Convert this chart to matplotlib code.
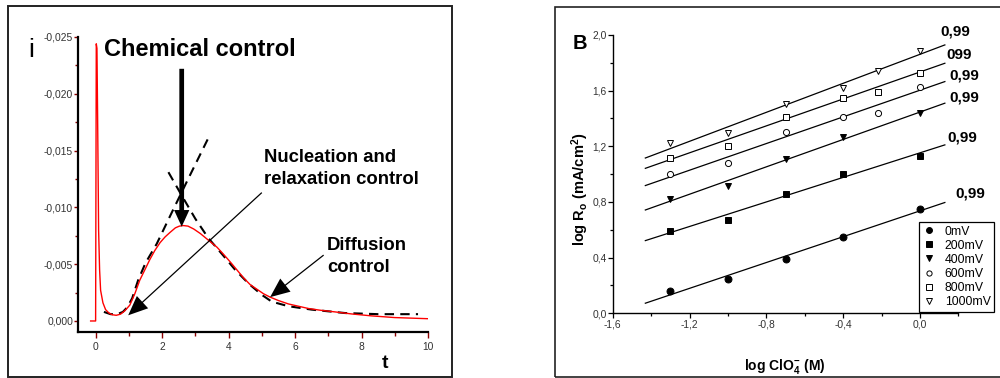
import matplotlib
matplotlib.use("Agg")
import matplotlib.pyplot as plt
from matplotlib.patches import Rectangle
from matplotlib.ticker import MultipleLocator, FuncFormatter, FixedLocator
import numpy as np

plt.rcParams['font.family'] = ['Liberation Sans', 'DejaVu Sans']
plt.rcParams['mathtext.fontset'] = 'custom'
plt.rcParams['mathtext.rm'] = 'Liberation Sans'
plt.rcParams['mathtext.bf'] = 'Liberation Sans:bold'
plt.rcParams['mathtext.it'] = 'Liberation Sans:italic'
plt.rcParams['mathtext.default'] = 'bf'

# ---------------- Panel A data (current transient) ----------------
t_measured = [-0.15, 0.0, 0.02, 0.04, 0.06, 0.09, 0.12, 0.15, 0.22, 0.30, 0.40,
              0.50, 0.62, 0.75, 0.88, 1.03, 1.18, 1.33, 1.48, 1.63, 1.78, 1.94,
              2.09, 2.24, 2.40, 2.52, 2.64, 2.78, 2.95, 3.15, 3.44, 3.65, 3.84,
              4.05, 4.25, 4.45, 4.65, 4.85, 5.05, 5.25, 5.50, 5.80, 6.10, 6.40,
              6.75, 7.20, 7.70, 8.30, 9.00, 10.0]
i_measured = [0.0, 0.0, -0.0244, -0.0240, -0.0180, -0.0080, -0.0045, -0.0027,
              -0.0016, -0.0010, -0.0007, -0.00055, -0.0005, -0.0006, -0.0009,
              -0.0014, -0.0024, -0.0036, -0.0045, -0.0054, -0.0062, -0.0069,
              -0.0074, -0.0078, -0.0082, -0.00835, -0.0084, -0.00835, -0.0081,
              -0.0077, -0.0070, -0.0065, -0.0059, -0.0052, -0.0045, -0.0038,
              -0.0032, -0.0028, -0.0024, -0.0021, -0.0018, -0.0015, -0.0013,
              -0.0011, -0.00095, -0.0008, -0.00062, -0.00045, -0.0003, -0.0002]

t_nucl = [0.25, 0.45, 0.65, 0.82, 0.95, 1.10, 1.28, 1.50, 1.84, 2.30, 2.80, 3.39]
i_nucl = [-0.0008, -0.0006, -0.0006, -0.0008, -0.0012, -0.0020, -0.0036, -0.0051,
          -0.0068, -0.0096, -0.0126, -0.0161]

t_diff = [2.19, 2.60, 3.00, 3.39, 3.80, 4.20, 4.60, 5.00, 5.30, 5.80, 6.50,
          7.50, 8.50, 9.70]
i_diff = [-0.0131, -0.0110, -0.0090, -0.0073, -0.0059, -0.0045, -0.0033, -0.0023,
          -0.0017, -0.0013, -0.0010, -0.0007, -0.0006, -0.0006]

# ---------------- Panel B data ----------------
log_clo4 = [-1.3, -1.0, -0.7, -0.4, -0.22, 0.0]
series_names = ['0mV', '200mV', '400mV', '600mV', '800mV', '1000mV']
v0 = [0.163, 0.244, 0.393, 0.546, None, 0.749]
v200 = [0.589, 0.673, 0.857, 1.001, None, 1.130]
v400 = [0.821, 0.914, 1.106, 1.264, None, 1.436]
v600 = [1.001, 1.080, 1.300, 1.410, 1.439, 1.628]
v800 = [1.118, 1.202, 1.412, 1.546, 1.589, 1.724]
v1000 = [1.221, 1.295, 1.501, 1.618, 1.740, 1.886]
fit_slopes = [0.464, 0.441, 0.492, 0.479, 0.484, 0.521]
fit_intercepts = [0.736, 1.153, 1.446, 1.603, 1.734, 1.861]
r_labels = ['0,99', '0,99', '0,99', '0,99', '099', '0,99']
fit_x_range = (-1.43, 0.13)

W, H = 1000, 378
fig = plt.figure(figsize=(W / 100, H / 100), dpi=100)

def fx(px):
    return px / W

def fy(py):
    return 1 - py / H

# panel frames
fig.patches.append(Rectangle((fx(7.5), fy(376.5)), fx(452) - fx(7.5), fy(6) - fy(376.5),
                             transform=fig.transFigure, fill=False, edgecolor='#222222',
                             linewidth=1.4, zorder=0))
fig.patches.append(Rectangle((fx(555), fy(376.5)), fx(1010) - fx(555), fy(6.5) - fy(376.5),
                             transform=fig.transFigure, fill=False, edgecolor='#222222',
                             linewidth=1.2, zorder=0))

# ---------------- Panel A ----------------
ax1 = fig.add_axes([fx(78), fy(332), fx(428) - fx(78), fy(37) - fy(332)])
ax1.plot(t_measured, i_measured, color='red', lw=1.0, zorder=3)
ax1.plot(t_nucl, i_nucl, color='black', lw=1.5, ls=(0, (4.5, 3)), zorder=2)
ax1.plot(t_diff, i_diff, color='black', lw=1.5, ls=(0, (4.5, 3)), zorder=2)
ax1.set_xlim(-0.53, 10)
ax1.set_ylim(0.00097, -0.025)
for s in ['top', 'right']:
    ax1.spines[s].set_visible(False)
for s in ['left', 'bottom']:
    ax1.spines[s].set_linewidth(1.6)
ax1.xaxis.set_major_locator(MultipleLocator(2))
ax1.xaxis.set_minor_locator(MultipleLocator(1))
ax1.yaxis.set_major_locator(FixedLocator([0, -0.005, -0.010, -0.015, -0.020, -0.025]))
ax1.yaxis.set_minor_locator(FixedLocator([-0.0025, -0.0075, -0.0125, -0.0175, -0.0225]))
ax1.xaxis.set_major_formatter(FuncFormatter(lambda v, p: f"{v:.0f}"))
ax1.yaxis.set_major_formatter(FuncFormatter(lambda v, p: f"{v:.3f}".replace('.', ',').replace('-0,000', '0,000')))
ax1.tick_params(which='both', direction='out', color='#8b0000', width=1.0,
                labelsize=7.4, labelcolor='#333333')
ax1.tick_params(axis='y', which='major', length=3.2, pad=0.3)
ax1.tick_params(axis='y', which='minor', length=2.2)
ax1.tick_params(axis='x', which='major', length=4.0, pad=3)
ax1.tick_params(axis='x', which='minor', length=2.8)

fig.text(fx(31), fy(57), 'i', fontsize=19, ha='center', va='baseline')
fig.text(fx(104), fy(56), 'Chemical control', fontsize=17, fontweight='bold',
         ha='left', va='baseline')
fig.text(fx(264), fy(162), 'Nucleation and', fontsize=13.3, fontweight='bold',
         ha='left', va='baseline')
fig.text(fx(264), fy(184), 'relaxation control', fontsize=13.3, fontweight='bold',
         ha='left', va='baseline')
fig.text(fx(327), fy(250.5), 'Diffusion', fontsize=13.3, fontweight='bold',
         ha='left', va='baseline')
fig.text(fx(327), fy(272.5), 'control', fontsize=13.3, fontweight='bold',
         ha='left', va='baseline')
fig.text(fx(385), fy(368), 't', fontsize=14, fontweight='bold', ha='center', va='baseline')

ax1.annotate('', xy=(2.59, -0.0083), xytext=(2.59, -0.0222),
             arrowprops=dict(width=3.4, headwidth=11, headlength=12, shrink=0,
                             facecolor='black', edgecolor='none'), zorder=5)
ax1.annotate('', xy=(0.98, -0.0005), xytext=(5.0, -0.0113),
             arrowprops=dict(width=0.9, headwidth=12, headlength=14, shrink=0,
                             facecolor='black', edgecolor='none'), zorder=5)
ax1.annotate('', xy=(5.25, -0.0021), xytext=(6.86, -0.0058),
             arrowprops=dict(width=0.9, headwidth=12, headlength=14, shrink=0,
                             facecolor='black', edgecolor='none'), zorder=5)

# ---------------- Panel B ----------------
ax2 = fig.add_axes([fx(612.7), fy(313.3), fx(958.3) - fx(612.7), fy(35) - fy(313.3)])
series_vals = [v0, v200, v400, v600, v800, v1000]
markers = ['o', 's', 'v', 'o', 's', 'v']
filled = [True, True, True, False, False, False]
xs_fit = np.array(fit_x_range)
for name, vals, mk, fl, k, b in zip(series_names, series_vals, markers, filled,
                                    fit_slopes, fit_intercepts):
    px = [x for x, v in zip(log_clo4, vals) if v is not None]
    py = [v for v in vals if v is not None]
    ax2.plot(px, py, ls='none', marker=mk, ms=5 if fl else 4.4,
             mfc='black' if fl else 'white', mec='black', mew=0.7, label=name, zorder=3)
    ax2.plot(xs_fit, k * xs_fit + b, color='black', lw=0.9, zorder=2)

label_x = [0.183, 0.143, 0.152, 0.152, 0.140, 0.109]
label_y = [0.862, 1.264, 1.548, 1.711, 1.855, 2.027]
for lx, ly, txt in zip(label_x, label_y, r_labels):
    ax2.text(lx, ly, txt, fontsize=11, fontweight='bold', ha='left', va='center',
             clip_on=False)

ax2.set_xlim(-1.6, 0.2)
ax2.set_ylim(0, 2.0)
for s in ['top', 'right']:
    ax2.spines[s].set_visible(False)
for s in ['left', 'bottom']:
    ax2.spines[s].set_linewidth(1.0)
ax2.xaxis.set_major_locator(FixedLocator([-1.6, -1.2, -0.8, -0.4, 0.0]))
ax2.xaxis.set_minor_locator(FixedLocator([-1.4, -1.0, -0.6, -0.2, 0.2]))
ax2.yaxis.set_major_locator(MultipleLocator(0.4))
ax2.yaxis.set_minor_locator(MultipleLocator(0.2))
ax2.xaxis.set_major_formatter(FuncFormatter(lambda v, p: f"{v:.1f}".replace('.', ',').replace('-0,0', '0,0')))
ax2.yaxis.set_major_formatter(FuncFormatter(lambda v, p: f"{v:.1f}".replace('.', ',')))
ax2.tick_params(which='both', direction='out', color='black', width=0.9,
                labelsize=7.4, labelcolor='#333333')
ax2.tick_params(which='major', length=3.5, pad=0.8)
ax2.tick_params(which='minor', length=2.2)

leg = ax2.legend(loc='lower right', bbox_to_anchor=(1.104, 0.006), borderaxespad=0,
                 fontsize=8.8, frameon=True, fancybox=False, framealpha=1,
                 edgecolor='black', numpoints=1, handlelength=1.0, handletextpad=0.8,
                 borderpad=0.3, labelspacing=0.17, markerscale=0.85)
leg.get_frame().set_linewidth(0.9)

fig.text(fx(573), fy(49), 'B', fontsize=14.5, fontweight='bold', ha='left', va='baseline')
fig.text(fx(580), fy(189), r'log R$_{o}$ (mA/cm$^{2}$)', fontsize=10.5,
         fontweight='bold', rotation=90, ha='center', va='center')
fig.text(fx(785), fy(370), r'log ClO$_{4}^{-}$ (M)', fontsize=10,
         fontweight='bold', ha='center', va='baseline')

fig.savefig('out.png', dpi=100)
